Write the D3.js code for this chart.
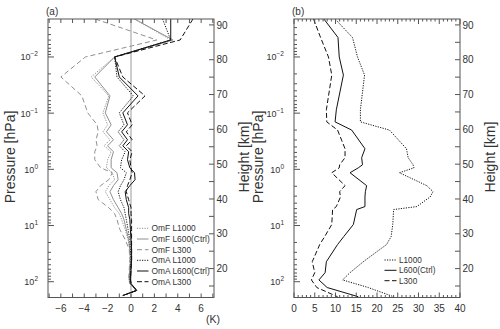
<!DOCTYPE html>
<html><head><meta charset="utf-8">
<script src="https://cdn.jsdelivr.net/npm/d3@7"></script>
<style>
body{margin:0;background:#fff}
svg{display:block}
text{font-family:"Liberation Sans",Arial,sans-serif;fill:#333}
</style>
</head><body>
<svg id="c" width="500" height="329"></svg>
<script>
// ---------- DATA ----------
// Panel (a): pressure levels (hPa) and OmF / OmA mean departures (K)
const pressA = [0.00211,0.00499,0.01,0.0227,0.0493,0.0988,0.161,0.215,0.298,0.381,0.487,0.675,0.937,1.15,1.53,1.95,2.50,3.47,4.81,6.15,7.85,11.8,17.8,26.8,40.4,60.7,91.4,108,143,176];
const omfL1000 = [0.3,3.4,-1.4,-3.4,-1.9,-2.4,-2.0,-2.4,-1.8,-2.3,-1.7,-2.0,-2.1,-1.6,-1.4,-1.9,-2.2,-1.8,-1.4,-1.0,-0.8,-0.5,-0.25,-0.1,-0.05,-0.1,-0.15,-0.1,0.45,-0.7];
const omfL600  = [0.3,3.6,-1.4,-3.1,-1.8,-2.2,-1.7,-2.1,-1.5,-2.0,-1.5,-1.7,-1.7,-1.2,-1.1,-1.5,-1.8,-1.5,-1.1,-0.8,-0.6,-0.4,-0.2,-0.1,-0.05,-0.1,-0.15,-0.1,0.45,-0.7];
const omfL300  = [-3.05,2.2,-3.9,-6.0,-4.2,-3.7,-2.9,-2.8,-3.0,-2.9,-3.1,-3.1,-2.6,-1.6,-1.9,-2.6,-3.0,-2.8,-1.9,-1.4,-1.2,-0.95,-0.5,-0.15,-0.1,-0.15,-0.2,-0.1,0.45,-0.7];
const omaL1000 = [2.7,3.4,-1.4,-1.2,0.2,-1.0,-0.6,-1.1,-0.6,-1.0,-0.5,-0.8,-0.9,-0.4,-0.6,-0.9,-1.1,-0.9,-0.6,-0.5,-0.4,-0.25,-0.1,-0.05,0,-0.05,-0.1,-0.05,0.45,-0.7];
const omaL600  = [3.4,3.4,-1.4,-1.0,0.6,-0.7,-0.3,-0.8,-0.3,-0.7,-0.2,-0.3,-0.1,0.3,0.35,-0.1,-0.5,-0.4,-0.2,-0.2,-0.1,-0.05,0,0.05,0.05,0,-0.05,0,0.5,-0.7];
const omaL300  = [5.3,4.2,-1.4,-0.7,1.2,-0.3,0.1,-0.4,0.1,-0.4,0.1,-0.1,0.0,0.1,-0.1,-0.3,-0.4,-0.2,0,0,0.05,0.05,0.05,0.05,0.05,0,-0.05,0,0.5,-0.7];
const legendA = ["OmF L1000","OmF L600(Ctrl)","OmF L300","OmA L1000","OmA L600(Ctrl)","OmA L300"];

// Panel (b): pressure levels (hPa) and standard deviations (K)
const pressB = [0.00211,0.0045,0.01,0.021,0.087,0.143,0.2,0.43,0.62,0.83,0.94,1.15,1.95,2.5,3.1,4.6,5.2,9.6,15.7,21.8,44,69,93,127,185];
const sdL1000 = [9.9,14.1,15.3,17.0,16.0,16.0,23.0,27.1,27.5,28.7,28.9,25.4,32.0,33.5,32.8,29.6,24.0,23.8,23.4,22.3,16.7,13.5,11.7,17.9,24.0];
const sdL600  = [7.2,10.6,10.9,11.9,10.2,9.9,13.9,17.1,16.3,16.5,15.5,13.5,17.5,17.2,17.1,17.1,15.1,14.3,12.0,10.5,7.8,7.5,6.0,8.0,15.5];
const sdL300  = [4.7,6.4,8.3,9.1,7.8,7.9,10.5,12.3,12.3,11.0,10.9,9.1,12.3,11.0,11.2,10.2,9.3,9.1,7.4,6.2,4.4,5.0,4.2,5.5,10.5];
const legendB = ["L1000","L600(Ctrl)","L300"];

// Tick values / labels
const xTicksA = [-6,-4,-2,0,2,4,6];
const xMinorA = d3.range(-7,8,1);
const xTicksB = [0,5,10,15,20,25,30,35,40];
const xMinorB = d3.range(0,41,1);
const pDecades = [0.01,0.1,1,10,100];
const pExponents = ["−2","−1","0","1","2"];
const heightTicks = [20,30,40,50,60,70,80,90];
const heightMinor = [15,25,35,45,55,65,75,85];

// ---------- DRAWING ----------
const svg = d3.select("#c");
const yTop = 19, yBot = 297.5;
const yP = d3.scaleLog().domain([0.00211, 191]).range([yTop, yBot]);
const yH = d3.scaleLinear().domain([11.7, 91.7]).range([yBot, yTop]);
const xA = d3.scaleLinear().domain([-7.1, 7.1]).range([48, 214]);
const xB = d3.scaleLinear().domain([0, 40]).range([294, 460]);
const axisCol = "#555";

const pMinor = [];
for (let k = -3; k <= 2; k++) for (let m = 2; m <= 9; m++) {
  const v = m * Math.pow(10, k);
  if (v > 0.00211 && v < 191) pMinor.push(v);
}

function frame(x, xMajor, xMinor, majLen, minLen, label) {
  const [x0, x1] = x.range();
  const g = svg.append("g");
  g.append("rect").attr("x", x0).attr("y", yTop).attr("width", x1 - x0).attr("height", yBot - yTop)
    .attr("fill", "none").attr("stroke", axisCol).attr("stroke-width", 1);
  xMinor.forEach(v => {
    const len = xMajor.includes(v) ? majLen : minLen;
    g.append("line").attr("x1", x(v)).attr("x2", x(v)).attr("y1", yBot).attr("y2", yBot - len).attr("stroke", axisCol);
    g.append("line").attr("x1", x(v)).attr("x2", x(v)).attr("y1", yTop).attr("y2", yTop + len).attr("stroke", axisCol);
  });
  xMajor.forEach(v => {
    g.append("text").attr("x", x(v)).attr("y", 312).attr("text-anchor", "middle")
      .attr("font-size", 10).text(v < 0 ? "−" + Math.abs(v) : v);
  });
  pDecades.forEach((v, i) => {
    g.append("line").attr("x1", x0).attr("x2", x0 + 6).attr("y1", yP(v)).attr("y2", yP(v)).attr("stroke", axisCol);
    const t = g.append("text").attr("x", x0 - 10).attr("y", yP(v) + 3.5).attr("text-anchor", "end").attr("font-size", 9);
    t.append("tspan").text("10");
    t.append("tspan").attr("dy", -4).attr("font-size", 6.5).text(pExponents[i]);
  });
  pMinor.forEach(v => {
    g.append("line").attr("x1", x0).attr("x2", x0 + 3).attr("y1", yP(v)).attr("y2", yP(v)).attr("stroke", axisCol);
  });
  heightTicks.concat(heightMinor).forEach(h => {
    g.append("line").attr("x1", x1).attr("x2", x1 - 5).attr("y1", yH(h)).attr("y2", yH(h)).attr("stroke", axisCol);
  });
  heightTicks.forEach(h => {
    g.append("text").attr("x", x1 + 2.5).attr("y", yH(h) + 3.6).attr("font-size", 10).text(h);
  });
  g.append("text").attr("x", x0 - 2).attr("y", 15).attr("font-size", 10).text(label);
}

function titles(xLeft, xRight) {
  const cy = 157;
  svg.append("text").attr("transform", `translate(${xLeft},${cy}) rotate(-90)`)
    .attr("text-anchor", "middle").attr("dy", "0.35em").attr("font-size", 14).text("Pressure [hPa]");
  svg.append("text").attr("transform", `translate(${xRight},${cy}) rotate(-90)`)
    .attr("text-anchor", "middle").attr("dy", "0.35em").attr("font-size", 14).text("Height [km]");
}

// ---- Panel (a)
svg.append("clipPath").attr("id", "clipA").append("rect")
  .attr("x", 48).attr("y", yTop).attr("width", 166).attr("height", yBot - yTop);
const gA = svg.append("g").attr("clip-path", "url(#clipA)");
gA.append("line").attr("x1", xA(0)).attr("x2", xA(0)).attr("y1", yTop).attr("y2", yBot)
  .attr("stroke", "#bdbdbd").attr("stroke-width", 1.5);

const seriesA = [
  {v: omfL1000, col: "#8f8f8f", dash: "1.2,1.3", w: 1},
  {v: omfL600,  col: "#8f8f8f", dash: null, w: 1},
  {v: omfL300,  col: "#8f8f8f", dash: "5,3", w: 1},
  {v: omaL1000, col: "#111", dash: "1.2,1.3", w: 1},
  {v: omaL600,  col: "#111", dash: null, w: 1},
  {v: omaL300,  col: "#111", dash: "5,2.5", w: 1}
];
const lineA = d3.line().x(d => xA(d[1])).y(d => yP(d[0]));
seriesA.forEach(s => {
  gA.append("path").attr("d", lineA(pressA.map((p, i) => [p, s.v[i]])))
    .attr("fill", "none").attr("stroke", s.col).attr("stroke-width", s.w)
    .attr("stroke-dasharray", s.dash);
});
frame(xA, xTicksA, xMinorA, 4, 4, "(a)");
const legAy = [228.3, 239, 249.7, 260.3, 271, 281.7];
seriesA.forEach((s, i) => {
  svg.append("line").attr("x1", 137).attr("x2", 148.5).attr("y1", legAy[i]).attr("y2", legAy[i])
    .attr("stroke", s.col).attr("stroke-width", 1).attr("stroke-dasharray", s.dash);
  svg.append("text").attr("x", 151.5).attr("y", legAy[i] + 3).attr("font-size", 8.4).text(legendA[i]);
});
svg.append("text").attr("x", 213).attr("y", 323).attr("text-anchor", "middle").attr("font-size", 10.5).text("(K)");

// ---- Panel (b)
svg.append("clipPath").attr("id", "clipB").append("rect")
  .attr("x", 294).attr("y", yTop).attr("width", 166).attr("height", yBot - yTop);
const gB = svg.append("g").attr("clip-path", "url(#clipB)");
const seriesB = [
  {v: sdL1000, dash: "1.2,1.3"},
  {v: sdL600, dash: null},
  {v: sdL300, dash: "5,2.5"}
];
const lineB = d3.line().x(d => xB(d[1])).y(d => yP(d[0]));
seriesB.forEach(s => {
  gB.append("path").attr("d", lineB(pressB.map((p, i) => [p, s.v[i]])))
    .attr("fill", "none").attr("stroke", "#111").attr("stroke-width", 1)
    .attr("stroke-dasharray", s.dash);
});
frame(xB, xTicksB, xMinorB, 5, 2.5, "(b)");
const legBy = [260, 270.3, 280.7];
seriesB.forEach((s, i) => {
  svg.append("line").attr("x1", 384.5).attr("x2", 396.5).attr("y1", legBy[i]).attr("y2", legBy[i])
    .attr("stroke", "#111").attr("stroke-dasharray", s.dash);
  svg.append("text").attr("x", 399).attr("y", legBy[i] + 3).attr("font-size", 8.2).text(legendB[i]);
});

titles(10, 244);
titles(258, 490);
</script>
</body></html>
